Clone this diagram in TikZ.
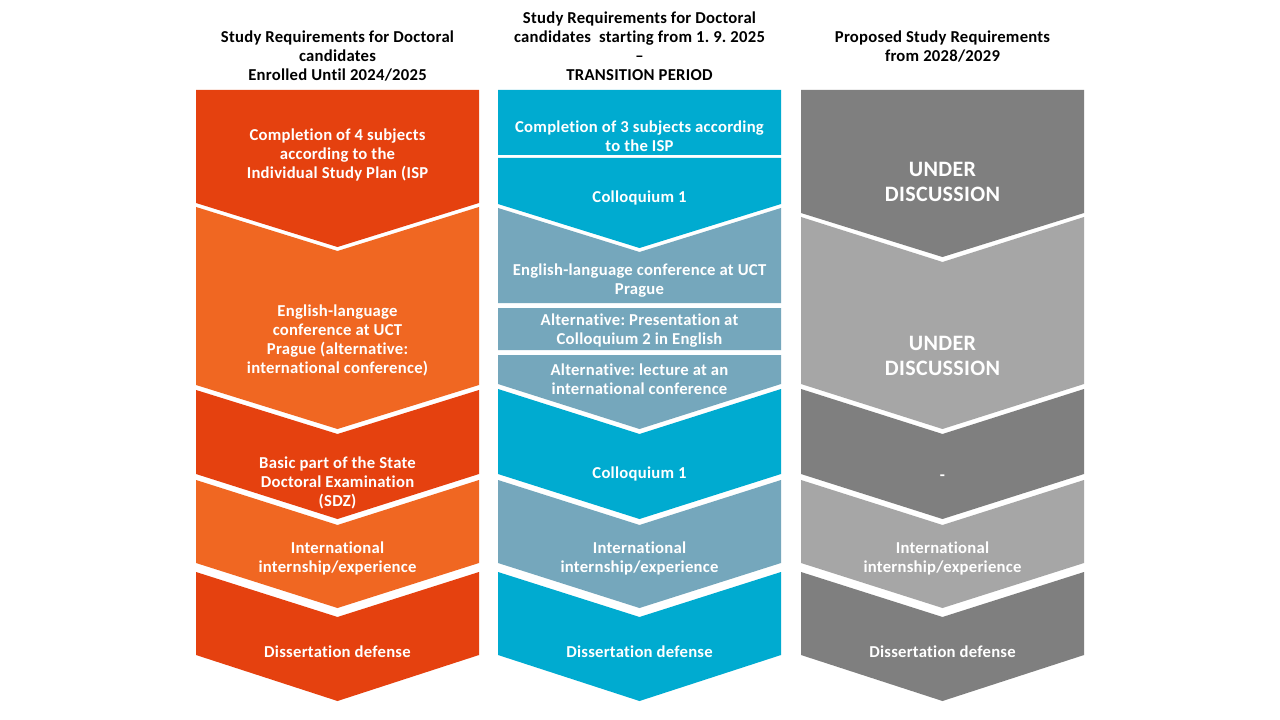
\documentclass[tikz,border=0pt]{standalone}
\usepackage{fontspec}
\setmainfont{Carlito}[LetterSpace=1.5, RawFeature={-liga}]
\frenchspacing
\definecolor{cred}{HTML}{E5410F}
\definecolor{corange}{HTML}{F06722}
\definecolor{cblue}{HTML}{00ABD0}
\definecolor{cgblue}{HTML}{75A7BC}
\definecolor{cdgrey}{HTML}{7F7F7F}
\definecolor{clgrey}{HTML}{A6A6A6}
% \chevpath{colour}{xl}{xr}{top side}{top point}{bottom side}{bottom point}
\newcommand{\chevpath}[7]{%
  \fill[#1] ({#2},{#4}) -- ({(#2+#3)/2},{#5}) -- ({#3},{#4}) -- ({#3},{#6}) -- ({(#2+#3)/2},{#7}) -- ({#2},{#6}) -- cycle;}
\begin{document}
\begin{tikzpicture}[x=0.75pt,y=-0.75pt,
  head/.style={font=\bfseries\fontsize{12.5}{14.25}\selectfont, align=center, text=black, inner sep=0pt, yshift=-0.9pt},
  lbl/.style={font=\bfseries\fontsize{12.5}{14.25}\selectfont, align=center, text=white, inner sep=0pt, yshift=-1.1pt},
  big/.style={font=\bfseries\fontsize{16.5}{18.75}\selectfont, align=center, text=white, inner sep=0pt, yshift=-0.8pt}]
\useasboundingbox[fill=white] (0,0) rectangle (1280,720);
% ---- left column
\chevpath{cred}{196}{479}{90}{90}{203}{247}
\chevpath{corange}{196}{479}{207}{251}{385}{429}
\chevpath{cred}{196}{479}{390}{434}{474}{519}
\chevpath{corange}{196}{479}{480}{525}{563}{608}
\chevpath{cred}{196}{479}{572}{617}{655}{701}
% ---- middle column
\chevpath{cblue}{498}{781}{90}{90}{155}{155}
\chevpath{cblue}{498}{781}{158}{158}{204}{248}
\chevpath{cgblue}{498}{781}{208}{252}{303}{303}
\chevpath{cgblue}{498}{781}{308}{308}{350}{350}
\chevpath{cgblue}{498}{781}{355}{355}{384}{429}
\chevpath{cblue}{498}{781}{389}{434}{474}{519}
\chevpath{cgblue}{498}{781}{480}{525}{563}{608}
\chevpath{cblue}{498}{781}{572}{617}{655}{701}
% ---- right column
\chevpath{cdgrey}{801}{1084}{90}{90}{213}{257}
\chevpath{clgrey}{801}{1084}{217}{262}{384}{429}
\chevpath{cdgrey}{801}{1084}{389}{434}{474}{519}
\chevpath{clgrey}{801}{1084}{480}{525}{563}{608}
\chevpath{cdgrey}{801}{1084}{572}{617}{655}{701}
% ---- headers
\node[head] (h1) at (337.5,55) {Study Requirements for Doctoral\\candidates\\Enrolled Until 2024/2025};
\node[head] (h2) at (639.5,45) {Study Requirements for Doctoral\\candidates\ \ starting from 1. 9. 2025\\–\\TRANSITION PERIOD};
\node[head] (h3) at (942.5,45.5) {Proposed Study Requirements\\from 2028/2029};
% ---- left labels
\node[lbl] (l1) at (337.5,153) {Completion of 4 subjects\\according to the\\Individual Study Plan (ISP};
\node[lbl] (l2) at (337.5,339) {English-language\\conference at UCT\\Prague (alternative:\\international conference)};
\node[lbl] (l3) at (337.5,481.5) {Basic part of the State\\Doctoral Examination\\(SDZ)};
\node[lbl] (l4) at (337.5,557) {International\\internship/experience};
\node[lbl] (l5) at (337.5,650) {Dissertation defense};
% ---- middle labels
\node[lbl] (m1) at (639.5,135) {Completion of 3 subjects according\\to the ISP};
\node[lbl] (m2) at (639.5,196) {Colloquium 1};
\node[lbl] (m3) at (639.5,279.5) {English-language conference at UCT\\Prague};
\node[lbl] (m4) at (639.5,329.5) {Alternative: Presentation at\\Colloquium 2 in English};
\node[lbl] (m5) at (639.5,377.5) {Alternative: lecture at an\\international conference};
\node[lbl] (m6) at (639.5,472) {Colloquium 1};
\node[lbl] (m7) at (639.5,557) {International\\internship/experience};
\node[lbl] (m8) at (639.5,650) {Dissertation defense};
% ---- right labels
\node[big] (r1) at (942.5,180.5) {UNDER\\DISCUSSION};
\node[big] (r2) at (942.5,354.5) {UNDER\\DISCUSSION};
\node[lbl] (r3) at (942.5,476) {-};
\node[lbl] (r4) at (942.5,557) {International\\internship/experience};
\node[lbl] (r5) at (942.5,650) {Dissertation defense};
\end{tikzpicture}
\end{document}
